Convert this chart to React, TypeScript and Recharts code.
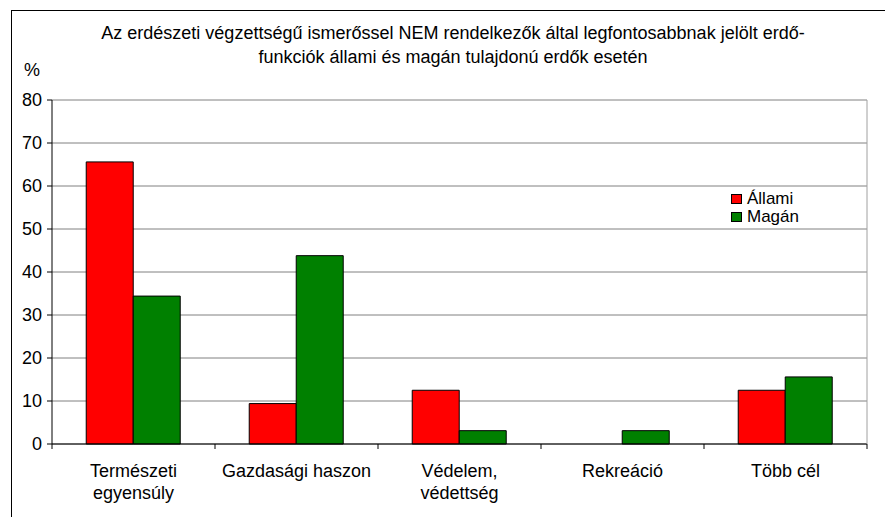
import React from 'react';
import { BarChart, Bar, XAxis, YAxis, CartesianGrid } from 'recharts';

const categories = ['Természeti egyensúly', 'Gazdasági haszon', 'Védelem, védettség', 'Rekreáció', 'Több cél'];
const allami = [65.6, 9.4, 12.5, 0, 12.5];
const magan = [34.4, 43.8, 3.1, 3.1, 15.6];
const yTicks = [0, 10, 20, 30, 40, 50, 60, 70, 80];

const titleLines = [
  'Az erdészeti végzettségű ismerőssel NEM rendelkezők által legfontosabbnak jelölt erdő-',
  'funkciók állami és magán tulajdonú erdők esetén',
];

const data = categories.map((name, i) => ({ name, allami: allami[i], magan: magan[i] }));

const FONT = 'Liberation Sans, Arial, sans-serif';
const singleLine = ['Gazdasági haszon', 'Több cél'];

// x ticks sit on the category borders, labels wrap at the first space
const CategoryTick = (props: any) => {
  const { x, y, payload, index } = props;
  const half = payload && payload.offset ? payload.offset : 81.5;
  const value = String(payload.value);
  const words = value.split(' ');
  const shown = singleLine.includes(value) || words.length < 2 ? [value] : [words[0], words.slice(1).join(' ')];
  return (
    <g>
      <line x1={x - half} x2={x - half} y1={y - 8} y2={y - 3} stroke="#000" />
      {index === categories.length - 1 && (
        <line x1={x + half} x2={x + half} y1={y - 8} y2={y - 3} stroke="#000" />
      )}
      {shown.map((t: string, i: number) => (
        <text key={i} x={x} y={y + 25 + i * 22} textAnchor="middle" fontSize={18} fill="#000" fontFamily={FONT}>
          {t}
        </text>
      ))}
    </g>
  );
};

export default function App() {
  return (
    <div style={{ position: 'absolute', left: 0, top: 0, width: 885, height: 517, background: '#fff', fontFamily: FONT, overflow: 'hidden' }}>
      <div style={{ position: 'absolute', left: 11, top: 10, width: 900, height: 600, borderLeft: '1px solid #000', borderTop: '1px solid #000' }} />
      {titleLines.map((t, i) => (
        <div key={i} style={{ position: 'absolute', left: 0, width: 906, top: 21 + i * 24, textAlign: 'center', fontSize: 18, lineHeight: '24px', whiteSpace: 'nowrap' }}>
          {t}
        </div>
      ))}
      <div style={{ position: 'absolute', left: 24, top: 58, fontSize: 18, lineHeight: '24px' }}>%</div>
      <div style={{ position: 'absolute', left: 731, top: 190, fontSize: 17, lineHeight: '18px' }}>
        <div style={{ display: 'flex', alignItems: 'center' }}>
          <span style={{ width: 9, height: 8, background: '#ff0000', border: '1px solid #000', marginRight: 5 }} />
          Állami
        </div>
        <div style={{ display: 'flex', alignItems: 'center' }}>
          <span style={{ width: 9, height: 8, background: '#008000', border: '1px solid #000', marginRight: 5 }} />
          Magán
        </div>
      </div>
      <BarChart
        width={885}
        height={517}
        data={data}
        margin={{ top: 100, right: 0, left: 0, bottom: 0 }}
        barCategoryGap="21%"
        barGap={0}
        style={{ position: 'absolute', left: 0, top: 0 }}
      >
        <CartesianGrid vertical={false} stroke="#808080" />
        <XAxis
          dataKey="name"
          axisLine={{ stroke: '#000' }}
          tickLine={false}
          tick={<CategoryTick />}
          interval={0}
          height={73}
        />
        <YAxis
          domain={[0, 80]}
          ticks={yTicks}
          width={52}
          axisLine={{ stroke: '#000' }}
          tickLine={{ stroke: '#000' }}
          tickSize={5}
          tickMargin={5}
          tick={{ fill: '#000', fontSize: 18, fontFamily: FONT }}
          interval={0}
        />
        <YAxis
          yAxisId="right"
          orientation="right"
          width={18}
          domain={[0, 80]}
          axisLine={{ stroke: '#a0a0a0' }}
          tick={false}
          tickLine={false}
        />
        <Bar dataKey="allami" name="Állami" fill="#ff0000" stroke="#000" strokeWidth={1} isAnimationActive={false} />
        <Bar dataKey="magan" name="Magán" fill="#008000" stroke="#000" strokeWidth={1} isAnimationActive={false} />
      </BarChart>
    </div>
  );
}
